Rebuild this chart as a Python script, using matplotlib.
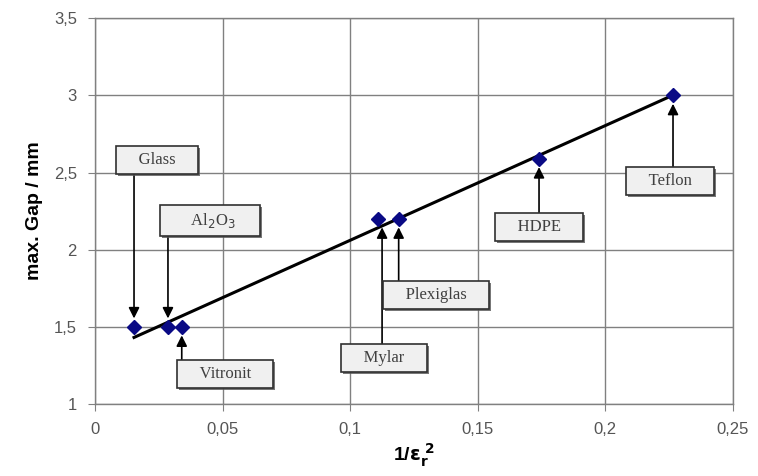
import numpy as np
import matplotlib.pyplot as plt
import matplotlib.patheffects as pe

# Material data: 1/eps_r^2 vs max. gap
materials = ["Glass", "Al$_2$O$_3$", "Vitronit", "Mylar", "Plexiglas", "HDPE", "Teflon"]
invEps2 = [0.0153, 0.0286, 0.034, 0.111, 0.119, 0.174, 0.2265]
maxGap = [1.5, 1.5, 1.5, 2.2, 2.2, 2.59, 3.0]

# Label box centres (data coords)
labelX = [0.0243, 0.045, 0.051, 0.1133, 0.1336, 0.174, 0.2253]
labelY = [2.58, 2.19, 1.194, 1.30, 1.706, 2.146, 2.444]
# x where the arrow leaves the box (arrows are vertical)
arrowX = [0.0153, 0.0286, 0.034, 0.1125, 0.119, 0.174, 0.2265]

xTicks = [0, 0.05, 0.1, 0.15, 0.2, 0.25]
xTickLabels = ["0", "0,05", "0,1", "0,15", "0,2", "0,25"]
yTicks = [1, 1.5, 2, 2.5, 3, 3.5]
yTickLabels = ["1", "1,5", "2", "2,5", "3", "3,5"]

fig = plt.figure(figsize=(7.58, 4.76), dpi=100)
ax = fig.add_axes([0.1253, 0.151, 0.8417, 0.811])

# Linear fit through the points
slope, intercept = np.polyfit(invEps2, maxGap, 1)
fitX = np.array([min(invEps2), max(invEps2)])
ax.plot(fitX, slope * fitX + intercept, color="black", lw=2.2, zorder=3)

ax.plot(invEps2, maxGap, linestyle="none", marker="D", markersize=7,
        color="#0a0a85", zorder=4)

boxHalf = 0.085  # half box height in data units
boxStyle = dict(boxstyle="square,pad=0.35", facecolor="#f0f0f0",
                edgecolor="#303030", lw=1.2)
for name, px, py, lx, ly, tx in zip(materials, invEps2, maxGap, labelX, labelY, arrowX):
    if ly > py:
        tail, head = ly - boxHalf, py + 0.055
    else:
        tail, head = ly + boxHalf, py - 0.055
    ax.annotate("", xy=(tx, head), xytext=(tx, tail),
                arrowprops=dict(arrowstyle="-|>", color="black", lw=1.2,
                                mutation_scale=16, shrinkA=0, shrinkB=0),
                zorder=5)
    pad = "\u2003\u2002" if "$" in name else "\u2003"
    label = pad + name + pad
    t = ax.text(lx, ly, label, ha="center", va="center", fontsize=12,
                family="Liberation Serif", color="#404040", bbox=boxStyle, zorder=7)
    t.get_bbox_patch().set_path_effects(
        [pe.SimplePatchShadow(offset=(1.5, -1.5), shadow_rgbFace="#555555", alpha=0.8),
         pe.Normal()])

ax.set_xlim(0, 0.25)
ax.set_ylim(1, 3.5)
ax.set_xticks(xTicks)
ax.set_xticklabels(xTickLabels)
ax.set_yticks(yTicks)
ax.set_yticklabels(yTickLabels)
ax.grid(True, color="#808080", lw=1.0)
ax.set_axisbelow(True)
for spine in ax.spines.values():
    spine.set_color("#808080")
    spine.set_linewidth(1.0)
ax.tick_params(colors="#808080", labelcolor="#555555", labelsize=12,
               length=5, pad=8)
for lbl in ax.get_xticklabels() + ax.get_yticklabels():
    lbl.set_family("Liberation Sans")

ax.set_ylabel("max. Gap / mm", fontsize=14, fontweight="bold",
              family="Liberation Sans", labelpad=8)
ax.set_xlabel(r"1/$\mathbf{\varepsilon_r^{\ 2}}$", fontsize=14, fontweight="bold",
              family="Liberation Sans", labelpad=3)

fig.savefig("out.png", dpi=100)
